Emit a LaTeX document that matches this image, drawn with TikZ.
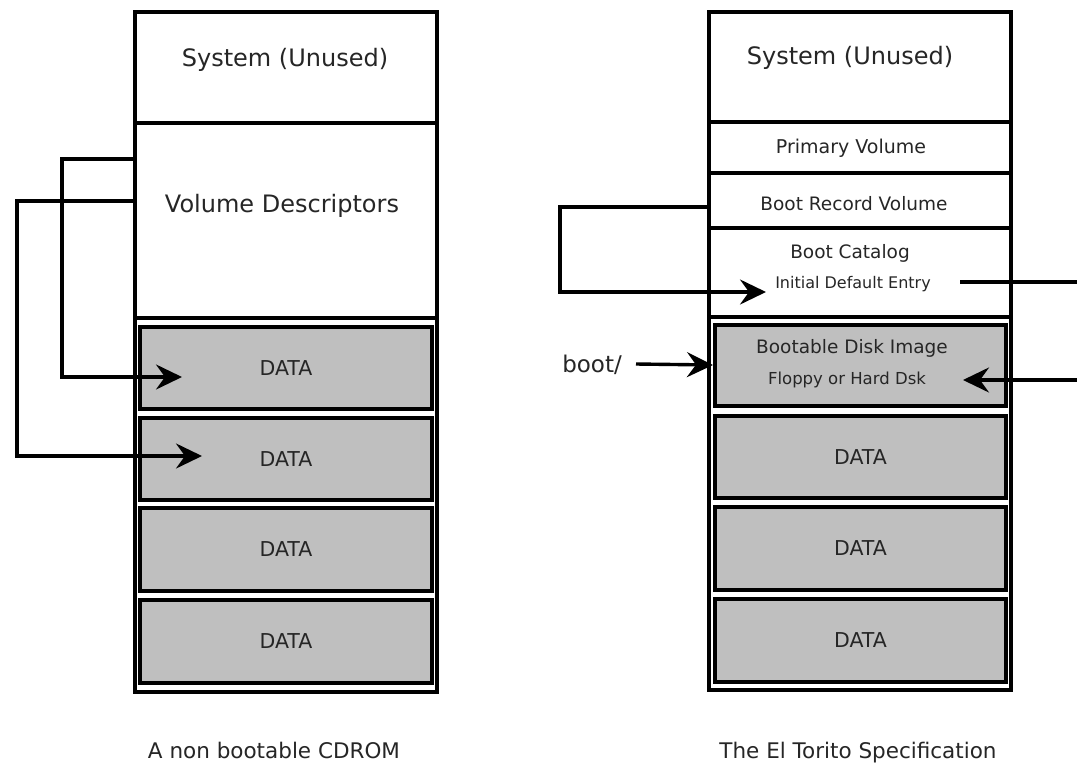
\documentclass[tikz,border=0pt]{standalone}
\usepackage{fontspec}
\setmainfont{DejaVu Sans}
\usetikzlibrary{arrows.meta}
\newcommand{\fs}[1]{\fontsize{#1}{#1}\selectfont}
\tikzset{
  colbox/.style={draw, line width=3.8pt, inner sep=0pt, outer sep=0pt},
  cell/.style={draw, line width=3.6pt, inner sep=0pt, outer sep=0pt, minimum width=302pt},
  databox/.style={draw, line width=3.6pt, fill=gray!50, inner sep=0pt, outer sep=0pt, minimum width=292pt, font=\fs{20.5}, text=black!85},
  txt/.style={inner sep=0pt, text=black!85},
  conn/.style={line width=3.4pt, line join=miter},
  tip/.style={-{Stealth[length=26pt,width=25pt,inset=9pt]}}
}
\begin{document}
\begin{tikzpicture}[x=1pt,y=-1pt]
\useasboundingbox[fill=white] (0,0) rectangle (1077,766);

% ---------- left column ----------
\node[colbox, minimum width=302pt, minimum height=680pt] (colL) at (286,352) {};
\node[cell, minimum height=111pt] (sysL) at (286,67.5) {};
\node[cell, minimum height=195pt] (vd) at (286,220.5) {};
\node[txt, font=\fs{24}] (sysLt) at (285,60) {System (Unused)};
\node[txt, font=\fs{24}] (vdt) at (282,206) {Volume Descriptors};
\node[databox, minimum height=82pt] (dL1) at (286,368) {DATA};
\node[databox, minimum height=82pt] (dL2) at (286,459) {DATA};
\node[databox, minimum height=83pt] (dL3) at (286,549.5) {DATA};
\node[databox, minimum height=83pt] (dL4) at (286,641.5) {DATA};
\node[txt, font=\fs{21.5}] (capL) at (274,750) {A non bootable CDROM};

\coordinate (l1s) at (135,159);
\coordinate (l1e) at (182,377);
\coordinate (l2s) at (135,201);
\coordinate (l2e) at (202,456);
\draw[conn, tip] (l1s) -- (62,159) -- (62,377) -- (l1e);
\draw[conn, tip] (l2s) -- (17,201) -- (17,456) -- (l2e);

% ---------- right column ----------
\node[colbox, minimum width=302pt, minimum height=678pt] (colR) at (860,351) {};
\node[cell, minimum height=110pt] (sysR) at (860,67) {};
\node[cell, minimum height=51pt] (prim) at (860,147.5) {};
\node[cell, minimum height=55pt] (brv) at (860,200.5) {};
\node[cell, minimum height=89pt] (bcat) at (860,272.5) {};
\node[txt, font=\fs{24}] (sysRt) at (850,58) {System (Unused)};
\node[txt, font=\fs{19}] (primt) at (851,148) {Primary Volume};
\node[txt, font=\fs{18.5}] (brvt) at (854,204) {Boot Record Volume};
\node[txt, font=\fs{18.5}] (bcatt) at (850,253) {Boot Catalog};
\node[txt, font=\fs{16}] (ide) at (853,284) {Initial Default Entry};
\node[databox, minimum width=291pt, minimum height=81pt] (boot) at (860.5,365.5) {};
\node[txt, font=\fs{18.5}] (bdi) at (852,348) {Bootable Disk Image};
\node[txt, font=\fs{16.5}] (fhd) at (847,380) {Floppy or Hard Dsk};
\node[databox, minimum width=291pt, minimum height=82pt] (dR2) at (860.5,457) {DATA};
\node[databox, minimum width=291pt, minimum height=83pt] (dR3) at (860.5,548.5) {DATA};
\node[databox, minimum width=291pt, minimum height=83pt] (dR4) at (860.5,640.5) {DATA};
\node[txt, font=\fs{21.5}] (capR) at (858,753) {The El Torito Specification};
\node[txt, font=\fs{23}] (bootdir) at (592,365) {boot/};

\coordinate (r1s) at (709,207);
\coordinate (r1e) at (766,292);
\draw[conn, tip] (r1s) -- (560,207) -- (560,292) -- (r1e);
\coordinate (idee) at (960,282);
\coordinate (offA) at (1077,282);
\draw[conn] (idee) -- (offA);
\coordinate (offB) at (1077,380);
\coordinate (fhde) at (963,380);
\draw[conn, tip] (offB) -- (fhde);
\coordinate (bd1) at (636,364);
\coordinate (bd2) at (713,365);
\draw[conn, tip] (bd1) -- (bd2);
\end{tikzpicture}
\end{document}
